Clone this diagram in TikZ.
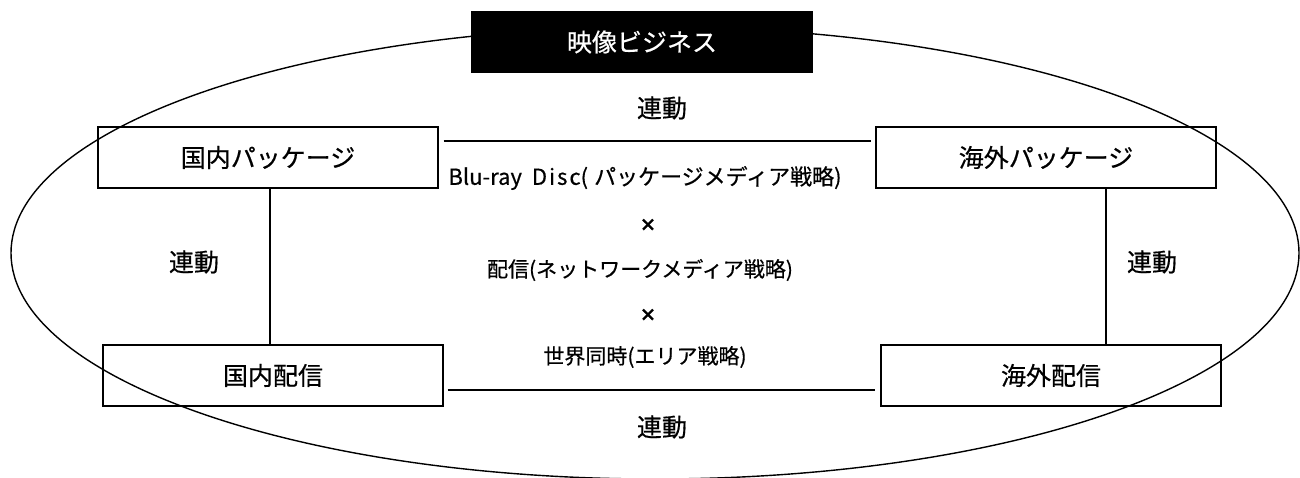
\documentclass[tikz,border=0pt]{standalone}
\usepackage{fontspec}
\setmainfont{Noto Sans CJK JP}[FakeBold=0.5]
\usetikzlibrary{calc}

\begin{document}
\begin{tikzpicture}[x=1pt, y=-1pt, line width=1.4pt,
    block/.style={draw, inner sep=0pt, minimum width=340pt, minimum height=61pt, font=\fontsize{25}{30}\selectfont},
    lbl/.style={inner sep=0pt, font=\fontsize{25}{30}\selectfont},
    mid/.style={inner sep=0pt, font=\fontsize{21}{25}\selectfont},
    times/.style={inner sep=0pt, font=\fontsize{17}{20}\selectfont\bfseries},]
        \useasboundingbox (0,0) rectangle (1300,477);
        \draw (655,253) ellipse [x radius=644pt, y radius=226pt];
        \node[fill=black, text=white, inner sep=0pt, minimum width=342pt, minimum height=62pt, font=\fontsize{25}{30}\selectfont] (title) at (642,42) {映像ビジネス};
        \node[block] (pkgJP) at (268,157.5) {国内パッケージ};
        \node[block] (pkgOS) at (1046,157.5) {海外パッケージ};
        \node[block] (dlJP) at (273,375.5) {国内配信};
        \node[block] (dlOS) at (1051,375.5) {海外配信};
        \draw ([xshift=5pt, yshift=16.5pt]pkgJP.east) -- ([xshift=-4pt, yshift=16.5pt]pkgOS.west);
        \draw ([xshift=4pt, yshift=-14.5pt]dlJP.east) -- ([xshift=-5pt, yshift=-14.5pt]dlOS.west);
        \draw ([xshift=2pt]pkgJP.south) -- ([xshift=2pt]pkgJP.south |- dlJP.north);
        \draw ([xshift=60pt]pkgOS.south) -- ([xshift=60pt]pkgOS.south |- dlOS.north);
        \node[lbl] (linkT) at (662,108) {連動};
        \node[lbl] (linkL) at (194,262) {連動};
        \node[lbl] (linkR) at (1152,262) {連動};
        \node[lbl] (linkB) at (662,427) {連動};
        \node[mid, font=\fontsize{22}{26}\selectfont] (disc) at (645,178) {Blu-ray\hspace{10pt}D\hspace{2pt}i\hspace{2pt}s\hspace{2pt}c(\hspace{6pt}パッケージメディア戦略)};
        \node[times] (timesA) at (648,225) {×};
        \node[mid] (net) at (640,270) {配信(ネットワークメディア戦略)};
        \node[times] (timesB) at (648,315) {×};
        \node[mid] (area) at (645,357) {世界同時(エリア戦略)};
      \end{tikzpicture}
\end{document}
